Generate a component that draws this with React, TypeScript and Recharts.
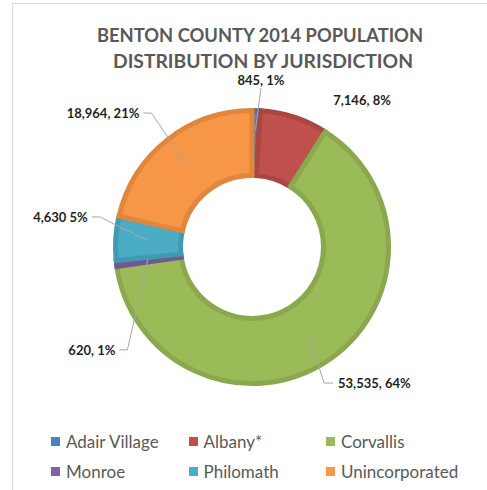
import { PieChart, Pie, Cell, Legend } from "recharts";

const jurisdictions = ["Adair Village", "Albany*", "Corvallis", "Monroe", "Philomath", "Unincorporated"];
// slice sizes as drawn: the Corvallis slice covers ~64%, more than its printed 53,535
const population = [845, 7146, 56535, 620, 4630, 18964];
const labelTexts = ["845, 1%", "7,146, 8%", "53,535, 64%", "620, 1%", "4,630 5%", "18,964, 21%"];

const fills = ["#4f81bd", "#c0504d", "#9bbb59", "#8064a2", "#4bacc6", "#f79646"];
const borders = ["#4472a9", "#aa4643", "#8aa94f", "#715790", "#3f9bb3", "#e0873e"];

const FONT = "Lato, 'Open Sans', sans-serif";
const RAD = Math.PI / 180;

// where each data label sits around the ring (shift = degrees clockwise from the slice middle)
const labelLayout: Record<string, { shift: number; r: number; side: "top" | "left" | "right"; line: boolean; lineR: number }> = {
  "Adair Village": { shift: 1.5, r: 159, side: "top", line: true, lineR: 117 },
  "Albany*": { shift: 11, r: 168, side: "right", line: false, lineR: 105 },
  Corvallis: { shift: 0.6, r: 161, side: "right", line: true, lineR: 105 },
  Monroe: { shift: -30, r: 171, side: "left", line: true, lineR: 105 },
  Philomath: { shift: 6.7, r: 167, side: "left", line: true, lineR: 105 },
  Unincorporated: { shift: -1.6, r: 175, side: "left", line: true, lineR: 105 },
};

const data = jurisdictions.map((name, i) => ({ name, value: population[i] }));

const renderLabel = (props: any) => {
  const { cx, cy, midAngle, index } = props;
  const lay = labelLayout[jurisdictions[index]];
  const a = midAngle - lay.shift;
  const ax = cx + lay.r * Math.cos(-a * RAD);
  const ay = cy + lay.r * Math.sin(-a * RAD);
  const px = cx + lay.lineR * Math.cos(-midAngle * RAD);
  const py = cy + lay.lineR * Math.sin(-midAngle * RAD);

  let d = "";
  let ty = ay;
  let anchor: "start" | "middle" | "end" = "middle";
  if (lay.side === "top") {
    d = `M${ax},${ay} L${px},${py}`;
    ty = ay - 8;
  } else if (lay.side === "right") {
    d = `M${ax - 5},${ay} H${ax - 14} L${px},${py}`;
    anchor = "start";
  } else {
    d = `M${ax + 4},${ay} H${ax + 12} L${px},${py}`;
    anchor = "end";
  }

  return (
    <g>
      {lay.line && <path d={d} fill="none" stroke="#a6a6a6" strokeWidth={1} />}
      <text
        x={ax}
        y={ty}
        textAnchor={anchor}
        dominantBaseline="central"
        fontFamily={FONT}
        fontWeight="bold"
        fontSize={13}
        fill="#1f1f1f"
      >
        {labelTexts[index]}
      </text>
    </g>
  );
};

const renderLegend = () => (
  <div style={{ display: "flex", flexWrap: "wrap", paddingLeft: 51, width: 436 }}>
    {jurisdictions.map((name, i) => (
      <div key={name} style={{ width: 137.5, height: 30, display: "flex", alignItems: "center" }}>
        <span style={{ width: 9, height: 9, background: fills[i], marginRight: 6, flexShrink: 0 }} />
        <span style={{ fontFamily: FONT, fontSize: 17, color: "#595959", whiteSpace: "nowrap" }}>{name}</span>
      </div>
    ))}
  </div>
);

export default function App() {
  return (
    <div style={{ position: "fixed", left: 0, top: 0, width: 487, height: 490, overflow: "hidden", background: "#fff" }}>
      <div
        style={{
          position: "absolute",
          left: 12,
          top: 3,
          width: 500,
          height: 500,
          borderLeft: "1px solid #d9d9d9",
          borderTop: "1px solid #d9d9d9",
        }}
      />
      <div style={{ position: "absolute", left: 0, top: 0 }}>
        <PieChart width={487} height={490} margin={{ top: 0, right: 0, bottom: 0, left: 0 }}>
          <text
            x={260}
            y={42}
            textAnchor="middle"
            fontFamily={FONT}
            fontWeight="bold"
            fontSize={19}
            fill="#595959"
            textLength={326}
            lengthAdjust="spacingAndGlyphs"
          >
            BENTON COUNTY 2014 POPULATION
          </text>
          <text
            x={263}
            y={68}
            textAnchor="middle"
            fontFamily={FONT}
            fontWeight="bold"
            fontSize={19}
            fill="#595959"
            textLength={300}
            lengthAdjust="spacingAndGlyphs"
          >
            DISTRIBUTION BY JURISDICTION
          </text>
          <Pie
            data={data}
            dataKey="value"
            nameKey="name"
            cx={252}
            cy={247}
            innerRadius={71.5}
            outerRadius={136.5}
            startAngle={90}
            endAngle={-270}
            label={renderLabel}
            labelLine={false}
            isAnimationActive={false}
          >
            {data.map((d, i) => (
              <Cell key={d.name} fill={fills[i]} stroke={borders[i]} strokeWidth={5} />
            ))}
          </Pie>
          <Legend content={renderLegend} wrapperStyle={{ top: 426, bottom: "auto", left: 0, width: 487 }} />
        </PieChart>
      </div>
    </div>
  );
}
